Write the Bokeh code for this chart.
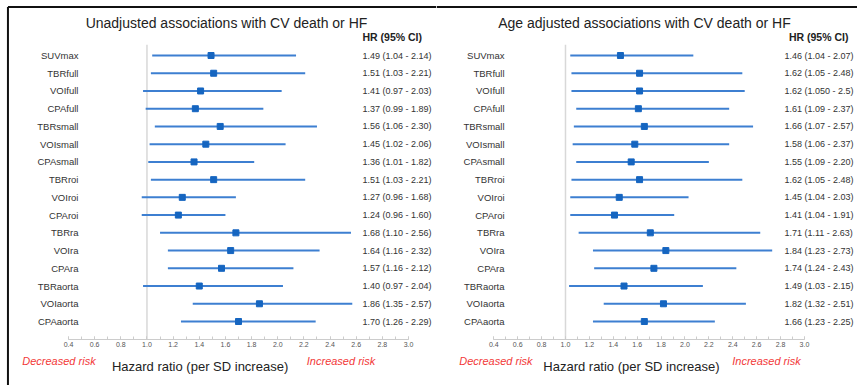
from bokeh.plotting import figure
from bokeh.models import Range1d, LinearAxis, SingleIntervalTicker, PrintfTickFormatter, Span
from bokeh.layouts import row
from bokeh.embed import file_html
from bokeh.resources import INLINE
from bokeh.core.properties import value

labels = ["SUVmax", "TBRfull", "VOIfull", "CPAfull", "TBRsmall", "VOIsmall", "CPAsmall",
          "TBRroi", "VOIroi", "CPAroi", "TBRra", "VOIra", "CPAra", "TBRaorta", "VOIaorta", "CPAaorta"]

# Unadjusted
hr_unadj = [1.49, 1.51, 1.41, 1.37, 1.56, 1.45, 1.36, 1.51, 1.27, 1.24, 1.68, 1.64, 1.57, 1.40, 1.86, 1.70]
lo_unadj = [1.04, 1.03, 0.97, 0.99, 1.06, 1.02, 1.01, 1.03, 0.96, 0.96, 1.10, 1.16, 1.16, 0.97, 1.35, 1.26]
hi_unadj = [2.14, 2.21, 2.03, 1.89, 2.30, 2.06, 1.82, 2.21, 1.68, 1.60, 2.56, 2.32, 2.12, 2.04, 2.57, 2.29]
ci_unadj = ["1.49 (1.04 - 2.14)", "1.51 (1.03 - 2.21)", "1.41 (0.97 - 2.03)", "1.37 (0.99 - 1.89)",
            "1.56 (1.06 - 2.30)", "1.45 (1.02 - 2.06)", "1.36 (1.01 - 1.82)", "1.51 (1.03 - 2.21)",
            "1.27 (0.96 - 1.68)", "1.24 (0.96 - 1.60)", "1.68 (1.10 - 2.56)", "1.64 (1.16 - 2.32)",
            "1.57 (1.16 - 2.12)", "1.40 (0.97 - 2.04)", "1.86 (1.35 - 2.57)", "1.70 (1.26 - 2.29)"]

# Age adjusted
hr_adj = [1.46, 1.62, 1.62, 1.61, 1.66, 1.58, 1.55, 1.62, 1.45, 1.41, 1.71, 1.84, 1.74, 1.49, 1.82, 1.66]
lo_adj = [1.04, 1.05, 1.05, 1.09, 1.07, 1.06, 1.09, 1.05, 1.04, 1.04, 1.11, 1.23, 1.24, 1.03, 1.32, 1.23]
hi_adj = [2.07, 2.48, 2.50, 2.37, 2.57, 2.37, 2.20, 2.48, 2.03, 1.91, 2.63, 2.73, 2.43, 2.15, 2.51, 2.25]
ci_adj = ["1.46 (1.04 - 2.07)", "1.62 (1.05 - 2.48)", "1.62 (1.050 - 2.5)", "1.61 (1.09 - 2.37)",
          "1.66 (1.07 - 2.57)", "1.58 (1.06 - 2.37)", "1.55 (1.09 - 2.20)", "1.62 (1.05 - 2.48)",
          "1.45 (1.04 - 2.03)", "1.41 (1.04 - 1.91)", "1.71 (1.11 - 2.63)", "1.84 (1.23 - 2.73)",
          "1.74 (1.24 - 2.43)", "1.49 (1.03 - 2.15)", "1.82 (1.32 - 2.51)", "1.66 (1.23 - 2.25)"]

titles = ["Unadjusted associations with CV death or HF", "Age adjusted associations with CV death or HF"]
header = "HR (95% CI)"
xlabel = "Hazard ratio (per SD increase)"
dec_text = "Decreased risk"
inc_text = "Increased risk"

FONT = value("Liberation Sans")
LINE_C = "#3d7fd1"
PT_C = "#1565c0"
RED = "#f23838"
H = 385
Y_RANGE = (18.609, -3.102)
Y_BORDER = -2.735


def panel(title, hr, lo, hi, ci, width, xr, lab_x, ci_x, head_x, head_align, title_x,
          dec_x, hz_x, inc_x, left_border_x=None):
    p = figure(width=width, height=H, x_range=Range1d(*xr), y_range=Range1d(*Y_RANGE),
               output_backend="svg", toolbar_location=None, min_border=0,
               x_axis_location=None, y_axis_location=None)
    p.outline_line_color = None
    p.xgrid.visible = False
    p.ygrid.visible = False
    ys = list(range(len(labels)))

    # frame border (top, and left on first panel)
    if left_border_x is None:
        p.add_layout(Span(location=Y_BORDER, dimension="width", line_color="#111111", line_width=2))
    else:
        p.segment(x0=[left_border_x], y0=[Y_BORDER], x1=[xr[1]], y1=[Y_BORDER],
                  line_color="#111111", line_width=2)
        p.segment(x0=[left_border_x], y0=[Y_BORDER], x1=[left_border_x], y1=[Y_RANGE[0]],
                  line_color="#111111", line_width=2)

    # reference line at HR = 1
    p.segment(x0=[1.0], y0=[-0.6], x1=[1.0], y1=[16.0], line_color="#d8d8d8", line_width=1.5)

    p.segment(x0=lo, y0=ys, x1=hi, y1=ys, line_color=LINE_C, line_width=2)
    p.scatter(x=hr, y=ys, marker="square", size=6, fill_color=PT_C, line_color=PT_C)

    p.text(x=[lab_x] * len(labels), y=ys, text=labels, text_align="right", text_baseline="middle",
           text_font=FONT, text_font_size="9.5px", text_color="#333333")
    p.text(x=[ci_x] * len(ci), y=ys, text=ci, text_align="left", text_baseline="middle",
           text_font=FONT, text_font_size="9px", text_color="#333333")
    p.text(x=[head_x], y=[-1.02], text=[header], text_align=head_align, text_baseline="middle",
           text_font=FONT, text_font_size="10.5px", text_font_style="bold", text_color="#222222")
    p.text(x=[title_x], y=[-1.86], text=[title], text_align="center", text_baseline="middle",
           text_font=FONT, text_font_size="14px", text_color="#222222")

    p.text(x=[dec_x], y=[17.2], text=[dec_text], text_align="center", text_baseline="middle",
           text_font=FONT, text_font_size="11px", text_font_style="italic", text_color=RED)
    p.text(x=[inc_x], y=[17.25], text=[inc_text], text_align="center", text_baseline="middle",
           text_font=FONT, text_font_size="11px", text_font_style="italic", text_color=RED)
    p.text(x=[hz_x], y=[17.55], text=[xlabel], text_align="center", text_baseline="middle",
           text_font=FONT, text_font_size="13px", text_color="#222222")

    ax = LinearAxis(ticker=SingleIntervalTicker(interval=0.2, num_minor_ticks=2),
                    formatter=PrintfTickFormatter(format="%.1f"),
                    bounds=(0.399, 3.001), fixed_location=16.0)
    ax.axis_line_color = "#cccccc"
    ax.major_tick_line_color = "#cccccc"
    ax.minor_tick_line_color = "#cccccc"
    ax.major_tick_in = 3
    ax.major_tick_out = 0
    ax.minor_tick_in = 3
    ax.minor_tick_out = 0
    ax.major_label_standoff = 3
    ax.major_label_text_font = "Liberation Sans"
    ax.major_label_text_font_size = "7px"
    ax.major_label_text_color = "#555555"
    p.add_layout(ax, "below")
    return p


p1 = panel(titles[0], hr_unadj, lo_unadj, hi_unadj, ci_unadj, 436, (-0.120, 3.214),
           0.476, 2.648, 2.648, "left", 1.608, 0.327, 1.406, 2.484, left_border_x=-0.063)
p2 = panel(titles[1], hr_adj, lo_adj, hi_adj, ci_adj, 421, (-0.0795, 3.444),
           0.490, 2.833, 3.368, "right", 1.661, 0.418, 1.552, 2.682)

layout = row(p1, p2)

open("out.html", "w").write(file_html(layout, INLINE))
